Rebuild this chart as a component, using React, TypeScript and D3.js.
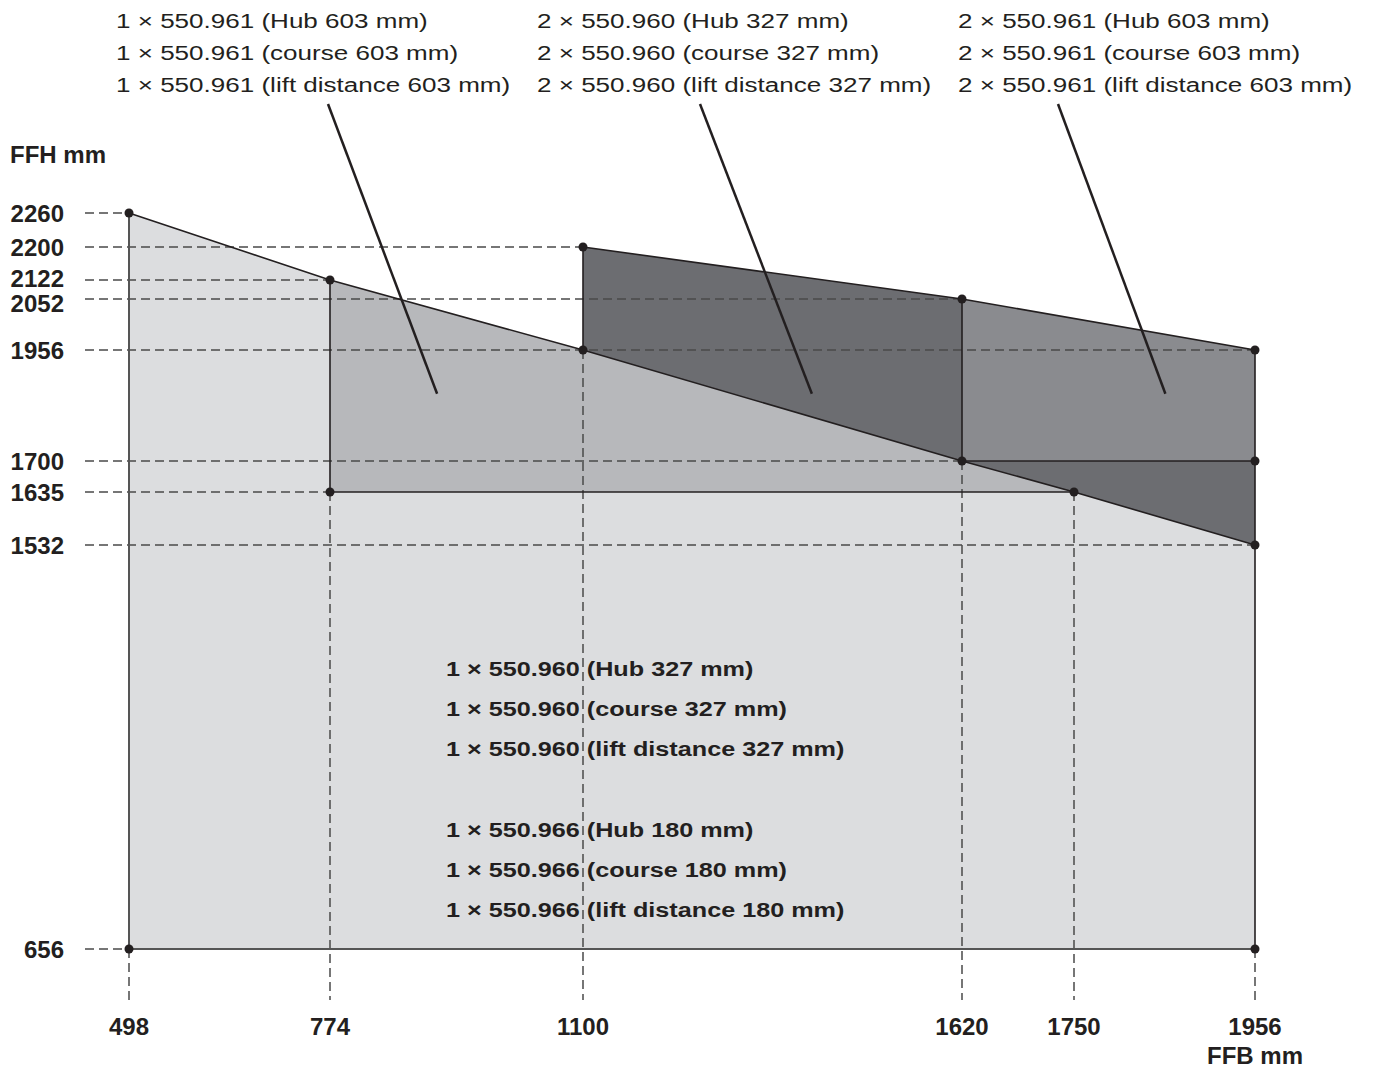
import React from "react";
import * as d3 from "d3";

// ---- data ----
const xTicks = [498, 774, 1100, 1620, 1750, 1956];
const yTicks = [656, 1532, 1635, 1700, 1956, 2052, 2122, 2200, 2260];

// the sloping upper limit of the single-unit region (FFB, FFH)
const lowerSlope: [number, number][] = [
  [498, 2260], [774, 2122], [1100, 1956], [1620, 1700], [1750, 1635], [1956, 1532],
];
// the sloping upper limit of the two-unit region
const upperSlope: [number, number][] = [
  [1100, 2200], [1620, 2052], [1956, 1956],
];

// region outlines (FFB, FFH)
const baseRegion: [number, number][] = [
  [498, 656], ...lowerSlope, [1956, 656],
];
const midRegion: [number, number][] = [
  [774, 1635], [774, 2122], [1100, 1956], [1620, 1700], [1750, 1635],
];
const darkRegionA: [number, number][] = [
  [1100, 1956], [1100, 2200], [1620, 2052], [1620, 1700],
];
const darkRegionB: [number, number][] = [
  [1620, 1700], [1956, 1700], [1956, 1532], [1750, 1635],
];
const rightRegion: [number, number][] = [
  [1620, 1700], [1620, 2052], [1956, 1956], [1956, 1700],
];

const solidSegments: [number, number, number, number][] = [
  [774, 1635, 774, 2122],
  [774, 1635, 1750, 1635],
  [1100, 1956, 1100, 2200],
  [1620, 1700, 1620, 2052],
  [1620, 1700, 1956, 1700],
  [1956, 656, 1956, 1956],
];
const greyEdges: [number, number, number, number][] = [
  [498, 656, 498, 2260],
  [498, 656, 1956, 656],
];

// horizontal dashed guides: [FFH, FFB end]
const hGuides: [number, number][] = [
  [2260, 498], [2200, 1100], [2122, 774], [2052, 1620], [1956, 1956],
  [1700, 1620], [1635, 774], [1532, 1956], [656, 498],
];
// vertical dashed guides: [FFB, FFH start]
const vGuides: [number, number][] = [
  [498, 656], [774, 1635], [1100, 1956], [1620, 1700], [1750, 1635], [1956, 656],
];

const dots: [number, number][] = [
  [498, 2260], [774, 2122], [774, 1635], [1100, 2200], [1100, 1956],
  [1620, 2052], [1620, 1700], [1750, 1635], [1956, 1956], [1956, 1700],
  [1956, 1532], [498, 656], [1956, 656],
];

const topLabels: string[][] = [
  ["1 × 550.961 (Hub 603 mm)", "1 × 550.961 (course 603 mm)", "1 × 550.961 (lift distance 603 mm)"],
  ["2 × 550.960 (Hub 327 mm)", "2 × 550.960 (course 327 mm)", "2 × 550.960 (lift distance 327 mm)"],
  ["2 × 550.961 (Hub 603 mm)", "2 × 550.961 (course 603 mm)", "2 × 550.961 (lift distance 603 mm)"],
];
// leader targets (FFB, FFH)
const leaderTargets: [number, number][] = [
  [912, 1855], [1414, 1855], [1854, 1855],
];
const centerLabels: string[] = [
  "1 × 550.960 (Hub 327 mm)",
  "1 × 550.960 (course 327 mm)",
  "1 × 550.960 (lift distance 327 mm)",
  "",
  "1 × 550.966 (Hub 180 mm)",
  "1 × 550.966 (course 180 mm)",
  "1 × 550.966 (lift distance 180 mm)",
];

// ---- layout ----
const W = 1373;
const H = 1069;
const xPixels = [129, 330, 583, 962, 1074, 1255];
const yPixelsFor = [949, 545, 492, 461, 350, 299, 280, 247, 213];
const yLabelNudge: Record<number, number> = { 2122: -2, 2052: 4 };
const topBlockX = [116, 537, 958];
const leaderStartX = [328, 700, 1058];

const FONT = "'Liberation Sans', Arial, Helvetica, sans-serif";
const INK = "#231f20";
const DASH = "#4a4a4a";

export default function App() {
  const x = d3.scaleLinear().domain(xTicks).range(xPixels);
  const y = d3.scaleLinear().domain(yTicks).range(yPixelsFor);
  const line = d3.line<[number, number]>().x((d) => x(d[0])).y((d) => y(d[1]));
  const poly = (pts: [number, number][]) => line(pts) + "Z";

  const axisLeft = 85;
  const axisBottom = 1000;

  return (
    <svg
      width={W}
      height={H}
      style={{ position: "absolute", left: 0, top: 0, background: "#fff" }}
      fontFamily={FONT}
    >
      <path d={poly(baseRegion)} fill="#dcdddf" />
      <path d={poly(midRegion)} fill="#b7b8bb" />
      <path d={poly(darkRegionA)} fill="#6c6d71" />
      <path d={poly(darkRegionB)} fill="#6c6d71" />
      <path d={poly(rightRegion)} fill="#8a8b8f" />

      {/* dashed guides */}
      {hGuides.map(([v, end], i) => (
        <line
          key={"h" + i}
          x1={axisLeft}
          x2={x(end)}
          y1={y(v)}
          y2={y(v)}
          stroke={DASH}
          strokeWidth={1.5}
          strokeDasharray="9,5"
        />
      ))}
      {vGuides.map(([v, start], i) => (
        <line
          key={"v" + i}
          x1={x(v)}
          x2={x(v)}
          y1={y(start)}
          y2={axisBottom}
          stroke={DASH}
          strokeWidth={1.5}
          strokeDasharray="9,5"
        />
      ))}

      {greyEdges.map(([a, b, c, d], i) => (
        <line key={"g" + i} x1={x(a)} y1={y(b)} x2={x(c)} y2={y(d)} stroke="#555" strokeWidth={2} />
      ))}
      <path d={line(lowerSlope) || ""} fill="none" stroke={INK} strokeWidth={1.6} />
      <path d={line(upperSlope) || ""} fill="none" stroke={INK} strokeWidth={1.6} />
      {solidSegments.map(([a, b, c, d], i) => (
        <line key={"s" + i} x1={x(a)} y1={y(b)} x2={x(c)} y2={y(d)} stroke={INK} strokeWidth={1.6} />
      ))}
      {dots.map(([a, b], i) => (
        <circle key={"d" + i} cx={x(a)} cy={y(b)} r={4.5} fill={INK} />
      ))}

      {/* axis labels */}
      <text x={10} y={163} fontSize={24} fontWeight="bold" fill={INK}>FFH mm</text>
      {yTicks.map((v) => (
        <text
          key={"yt" + v}
          x={64}
          y={y(v) + 8.5 + (yLabelNudge[v] || 0)}
          fontSize={24}
          fontWeight="bold"
          textAnchor="end"
          fill={INK}
        >
          {v}
        </text>
      ))}
      {xTicks.map((v) => (
        <text key={"xt" + v} x={x(v)} y={1035} fontSize={24} fontWeight="bold" textAnchor="middle" fill={INK}>
          {v}
        </text>
      ))}
      <text x={x(1956)} y={1064} fontSize={24} fontWeight="bold" textAnchor="middle" fill={INK}>FFB mm</text>

      {/* top annotations */}
      {topLabels.map((lines, bi) => (
        <g key={"tb" + bi}>
          {lines.map((t, li) => (
            <text
              key={li}
              transform={`translate(${topBlockX[bi]},${28 + li * 32}) scale(1.24,1)`}
              fontSize={21}
              fill={INK}
            >
              {t}
            </text>
          ))}
          <line
            x1={leaderStartX[bi]}
            y1={104}
            x2={x(leaderTargets[bi][0])}
            y2={y(leaderTargets[bi][1])}
            stroke={INK}
            strokeWidth={2.5}
          />
        </g>
      ))}

      {/* centre annotation */}
      {centerLabels.map((t, i) =>
        t ? (
          <text
            key={"c" + i}
            transform={`translate(446,${676 + i * 40.2}) scale(1.2,1)`}
            fontSize={21}
            fontWeight="bold"
            fill={INK}
          >
            {t}
          </text>
        ) : null
      )}
    </svg>
  );
}
